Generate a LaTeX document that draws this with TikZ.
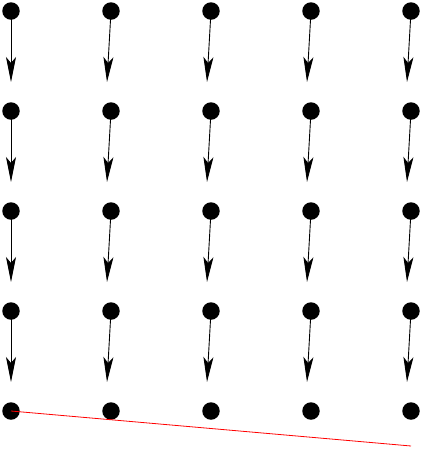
\documentclass[tikz,border=0pt]{standalone}
\usetikzlibrary{arrows.meta}
\begin{document}
\begin{tikzpicture}[x=1pt,y=-1pt,
  dot/.style={circle,fill=black,inner sep=0pt,minimum size=17.5pt},
  vec/.style={line width=0.9pt,-{Stealth[length=25pt,width=10pt,inset=6pt]}},
  redline/.style={red,line width=0.8pt}]
\useasboundingbox (0,0) rectangle (423,451);
\foreach \i in {1,...,5}{
  \foreach \j in {1,...,5}{
    \node[dot] (d\i\j) at ({11+100*(\i-1)},{11+100*(\j-1)}) {};
  }
}
\foreach \i in {1,...,5}{
  \foreach \j in {1,...,4}{
    \pgfmathsetmacro{\dx}{\i==1?0:-4}
    \coordinate (e\i\j) at ({11+100*(\i-1)+\dx},{82+100*(\j-1)});
    \draw[vec] (d\i\j.center) -- (e\i\j);
  }
}
\coordinate (r) at (411,446);
\draw[redline] (d15.center) -- (r);
\end{tikzpicture}
\end{document}
